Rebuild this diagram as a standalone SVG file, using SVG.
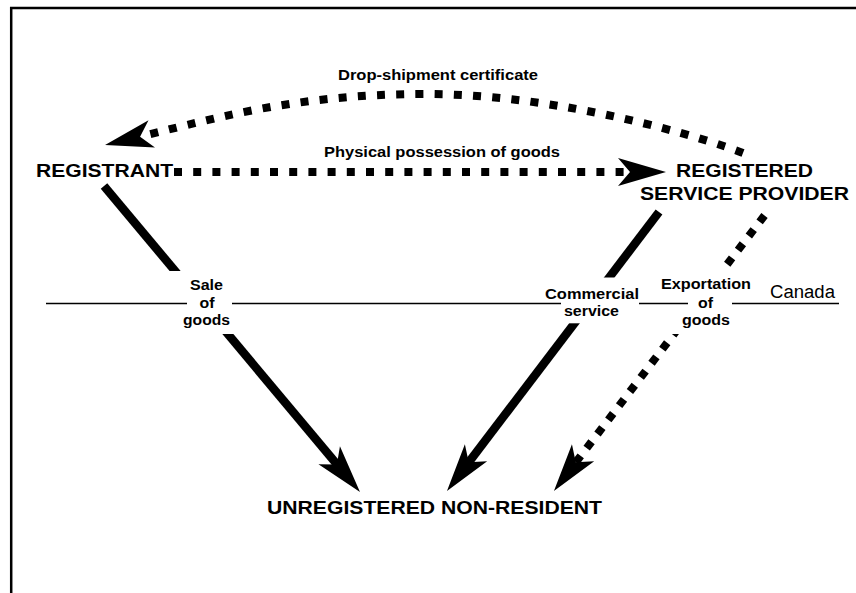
<svg xmlns="http://www.w3.org/2000/svg" width="856" height="593" viewBox="0 0 856 593">
  <style>
    .node { font-family: "Liberation Sans", Arial, sans-serif; font-weight: bold; font-size: 18.5px; fill: #000; }
    .lbl { font-family: "Liberation Sans", Arial, sans-serif; font-weight: bold; font-size: 14px; fill: #000; }
    .reg { font-family: "Liberation Sans", Arial, sans-serif; font-size: 18px; fill: #000; }
    .solid { fill: none; stroke: #000; stroke-width: 8.5; stroke-linecap: butt; }
    .dot { fill: none; stroke: #000; stroke-width: 8; stroke-linecap: butt; stroke-dasharray: 8 11.2; }
    .dot2 { fill: none; stroke: #000; stroke-width: 8; stroke-linecap: butt; stroke-dasharray: 8 9.8; }
    .thin { fill: none; stroke: #000; stroke-width: 1.3; }
    .bg { fill: #fff; stroke: none; }
  </style>
  <defs>
    <marker id="ah" markerUnits="userSpaceOnUse" orient="auto" refX="0" refY="0" markerWidth="60" markerHeight="40" overflow="visible">
      <path d="M24,0 L-24,-14 L-12,0 L-24,14 Z" fill="#000"/>
    </marker>
  </defs>
  <rect x="0" y="0" width="856" height="593" fill="#fff"/>
  <g id="frame">
    <path d="M11.2,593 V8 H856" fill="none" stroke="#000" stroke-width="2.5"/>
  </g>
  <g id="connectors">
    <path id="c-drop" class="dot" d="M743,153 C 705,138 560,94 425,94 S 206.2,121 128.4,139.5" marker-end="url(#ah)"/>
    <path id="c-phys" class="dot" d="M174,172 H642" marker-end="url(#ah)"/>
    <path id="c-sale" class="solid" d="M104,186 L344.6,473.6" marker-end="url(#ah)"/>
    <path id="c-comm" class="solid" d="M659,212 L461.5,471.9" marker-end="url(#ah)"/>
    <path id="c-exp" class="dot2" d="M764.5,215.5 L568.5,471.9" marker-end="url(#ah)"/>
  </g>
  <g id="label-drop">
    <text class="lbl" x="338" y="80" textLength="200" lengthAdjust="spacingAndGlyphs">Drop-shipment certificate</text>
  </g>
  <g id="label-phys">
    <text class="lbl" x="324" y="157" textLength="236" lengthAdjust="spacingAndGlyphs">Physical possession of goods</text>
  </g>
  <g id="label-sale">
    <rect class="bg" x="160" y="271" width="82" height="63"/>
    <text class="lbl" x="190" y="290" textLength="33" lengthAdjust="spacingAndGlyphs">Sale</text>
    <text class="lbl" x="199.5" y="308" textLength="15" lengthAdjust="spacingAndGlyphs">of</text>
    <text class="lbl" x="183" y="324.5" textLength="47" lengthAdjust="spacingAndGlyphs">goods</text>
  </g>
  <g id="label-comm">
    <rect class="bg" x="543" y="277.5" width="99" height="45.8"/>
    <text class="lbl" x="545" y="298.5" textLength="94" lengthAdjust="spacingAndGlyphs">Commercial</text>
    <text class="lbl" x="564" y="316" textLength="55" lengthAdjust="spacingAndGlyphs">service</text>
  </g>
  <g id="label-exp">
    <rect class="bg" x="655" y="268" width="100" height="66"/>
    <text class="lbl" x="661" y="289" textLength="90" lengthAdjust="spacingAndGlyphs">Exportation</text>
    <text class="lbl" x="698" y="308" textLength="15" lengthAdjust="spacingAndGlyphs">of</text>
    <text class="lbl" x="682" y="324.5" textLength="48" lengthAdjust="spacingAndGlyphs">goods</text>
  </g>
  <g id="border-canada">
    <path class="thin" d="M46,303.5 H187 M232,303.5 H561 M639,303.5 H688 M732,303.5 H839"/>
    <text class="reg" x="770" y="298" textLength="65" lengthAdjust="spacingAndGlyphs">Canada</text>
  </g>
  <g id="node-registrant">
    <text class="node" x="36" y="177" textLength="137" lengthAdjust="spacingAndGlyphs">REGISTRANT</text>
  </g>
  <g id="node-provider">
    <text class="node" x="676" y="177" textLength="137" lengthAdjust="spacingAndGlyphs">REGISTERED</text>
    <text class="node" x="640" y="200" textLength="209" lengthAdjust="spacingAndGlyphs">SERVICE PROVIDER</text>
  </g>
  <g id="node-nonresident">
    <text class="node" x="267" y="514" textLength="335" lengthAdjust="spacingAndGlyphs">UNREGISTERED NON-RESIDENT</text>
  </g>
</svg>
